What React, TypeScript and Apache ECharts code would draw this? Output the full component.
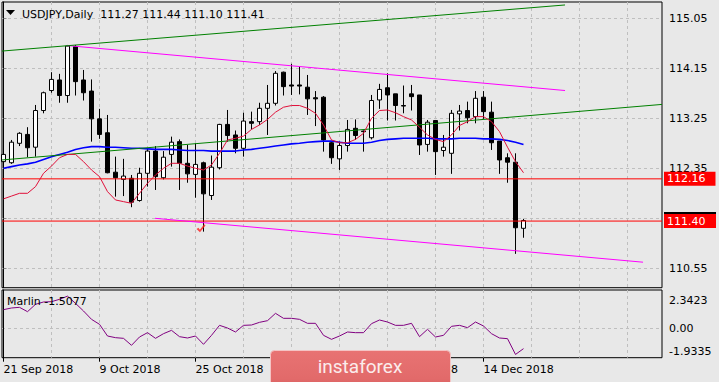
import React, { useEffect, useRef } from 'react';
import * as echarts from 'echarts';

// ---- data (USDJPY Daily, 21 Sep 2018 .. 21 Dec 2018) ----
const dates = [
  '2018-09-21', '2018-09-24', '2018-09-25', '2018-09-26', '2018-09-27', '2018-09-28',
  '2018-10-01', '2018-10-02', '2018-10-03', '2018-10-04', '2018-10-05', '2018-10-08', '2018-10-09',
  '2018-10-10', '2018-10-11', '2018-10-12', '2018-10-15', '2018-10-16', '2018-10-17', '2018-10-18',
  '2018-10-19', '2018-10-22', '2018-10-23', '2018-10-24', '2018-10-25', '2018-10-26', '2018-10-29',
  '2018-10-30', '2018-10-31', '2018-11-01', '2018-11-02', '2018-11-05', '2018-11-06', '2018-11-07',
  '2018-11-08', '2018-11-09', '2018-11-12', '2018-11-13', '2018-11-14', '2018-11-15', '2018-11-16',
  '2018-11-19', '2018-11-20', '2018-11-21', '2018-11-22', '2018-11-23', '2018-11-26', '2018-11-27',
  '2018-11-28', '2018-11-29', '2018-11-30', '2018-12-03', '2018-12-04', '2018-12-05', '2018-12-06',
  '2018-12-07', '2018-12-10', '2018-12-11', '2018-12-12', '2018-12-13', '2018-12-14', '2018-12-17',
  '2018-12-18', '2018-12-19', '2018-12-20', '2018-12-21',
];

const opens = [
  112.47, 112.45, 112.80, 112.96, 112.73, 113.39, 113.75, 113.94, 113.66, 114.54,
  113.94, 113.74, 113.24, 112.99, 112.28, 112.15, 112.17, 111.77, 112.26, 112.66,
  112.18, 112.60, 112.83, 112.44, 112.24, 112.45, 111.86, 112.36, 113.14, 112.95,
  112.71, 113.19, 113.19, 113.43, 113.52, 114.08, 113.85, 113.85, 113.81, 113.62,
  113.63, 112.81, 112.52, 112.76, 113.07, 113.02, 112.90, 113.58, 113.80, 113.69,
  113.48, 113.69, 113.67, 112.78, 113.21, 112.67, 112.62, 113.33, 113.39, 113.28,
  113.63, 113.36, 112.84, 112.54, 112.46, 111.27,
];
const highs = [
  112.68, 112.86, 113.00, 113.09, 113.49, 113.73, 114.08, 114.05, 114.57, 114.57,
  114.12, 113.95, 113.42, 113.31, 112.56, 112.52, 112.23, 112.36, 112.71, 112.75,
  112.66, 112.92, 112.87, 112.77, 112.80, 112.47, 112.58, 113.15, 113.40, 113.03,
  113.35, 113.37, 113.53, 113.85, 114.10, 114.09, 114.23, 114.18, 114.03, 113.74,
  113.65, 112.83, 112.83, 113.22, 113.23, 113.03, 113.67, 113.87, 114.06, 113.69,
  113.84, 113.85, 113.67, 113.22, 113.22, 112.95, 113.40, 113.49, 113.55, 113.74,
  113.74, 113.55, 112.84, 112.62, 112.62, 111.44,
];
const lows = [
  112.38, 112.43, 112.75, 112.55, 112.56, 113.34, 113.71, 113.53, 113.53, 113.66,
  113.57, 112.83, 112.88, 112.26, 111.84, 111.85, 111.65, 111.75, 112.02, 111.96,
  112.15, 112.38, 111.96, 112.09, 111.82, 111.21, 111.78, 112.33, 112.83, 112.62,
  112.56, 113.05, 113.13, 112.95, 113.48, 113.66, 113.67, 113.68, 113.31, 113.11,
  112.65, 112.43, 112.32, 112.65, 112.86, 112.65, 112.87, 113.42, 113.21, 113.21,
  113.34, 113.39, 112.59, 112.65, 112.23, 112.56, 112.25, 113.03, 113.16, 113.16,
  113.24, 112.68, 112.25, 112.09, 110.81, 111.10,
];
const closes = [
  112.60, 112.82, 112.98, 112.72, 113.39, 113.71, 113.95, 113.66, 114.55, 113.91,
  113.71, 113.24, 112.96, 112.27, 112.18, 112.21, 111.74, 112.26, 112.66, 112.20,
  112.55, 112.82, 112.44, 112.25, 112.42, 111.89, 112.37, 113.14, 112.94, 112.71,
  113.20, 113.16, 113.43, 113.52, 114.06, 113.82, 113.83, 113.83, 113.60, 113.60,
  112.86, 112.54, 112.76, 113.05, 112.94, 113.01, 113.57, 113.77, 113.67, 113.48,
  113.47, 113.64, 112.77, 113.18, 112.65, 112.73, 113.34, 113.38, 113.26, 113.61,
  113.37, 112.81, 112.50, 112.46, 111.28, 111.41,
];

// fast moving average (thin crimson)
const maFast = [
  111.80, 111.85, 111.90, 111.90, 112.02, 112.26, 112.39, 112.54, 112.60, 112.60,
  112.47, 112.32, 112.20, 111.93, 111.78, 111.75, 111.72, 111.90, 112.08, 112.23,
  112.35, 112.44, 112.44, 112.39, 112.35, 112.32, 112.41, 112.62, 112.86, 112.89,
  112.93, 113.05, 113.13, 113.23, 113.36, 113.45, 113.48, 113.48, 113.43, 113.34,
  113.13, 112.86, 112.81, 112.81, 112.87, 112.98, 113.25, 113.39, 113.40, 113.35,
  113.28, 113.22, 113.09, 112.95, 112.87, 112.83, 112.95, 113.12, 113.19, 113.28,
  113.28, 113.19, 113.01, 112.73, 112.47, 112.27,
];
// slow moving average (blue)
const maSlow = [
  112.35, 112.38, 112.41, 112.43, 112.46, 112.51, 112.56, 112.60, 112.64, 112.69,
  112.72, 112.74, 112.74, 112.73, 112.73, 112.72, 112.71, 112.71, 112.70, 112.69,
  112.69, 112.69, 112.68, 112.67, 112.67, 112.67, 112.66, 112.66, 112.66, 112.66,
  112.68, 112.69, 112.71, 112.73, 112.75, 112.77, 112.79, 112.80, 112.82, 112.83,
  112.84, 112.84, 112.82, 112.80, 112.80, 112.80, 112.82, 112.85, 112.87, 112.88,
  112.89, 112.89, 112.89, 112.89, 112.88, 112.88, 112.88, 112.89, 112.89, 112.89,
  112.88, 112.88, 112.87, 112.85, 112.82, 112.78,
];
// Marlin oscillator
const marlin = [
  1.352, 1.475, 1.524, 1.205, 1.744, 1.915, 1.939, 2.111, 2.3423, 1.817,
  1.255, 0.643, 0.277, -0.580, -0.702, -0.751, -1.264, -0.653, -0.335, -0.751,
  -0.408, -0.164, -0.629, -0.726, -0.580, -1.191, -0.531, 0.203, 0.007, -0.286,
  0.203, 0.227, 0.423, 0.545, 1.083, 0.717, 0.717, 0.643, 0.350, 0.350,
  -0.531, -0.824, -0.580, -0.286, -0.335, -0.335, 0.325, 0.594, 0.447, 0.203,
  0.203, 0.350, -0.629, -0.090, -0.653, -0.531, 0.130, 0.203, 0.032, 0.447,
  0.154, -0.408, -0.726, -0.775, -1.9335, -1.5077,
];

// trend lines: [barIndex, price]
const upperMagenta = [[7.94, 114.56], [70.19, 113.75]];
const lowerMagenta = [[18.94, 111.45], [79.94, 110.66]];
const upperGreen = [[-0.19, 114.46], [70.19, 115.29]];
const lowerGreen = [[-0.19, 112.50], [82.31, 113.50]];

const levelLine = 112.16;
const bidLine = 111.40;
const checkMark = [[24.69, 111.27]];

// axes ticks
const priceGridLines = [110.55, 111.45, 112.35, 113.25, 114.15, 115.05];
const priceTickLabels = [110.55, 112.35, 113.25, 114.15, 115.05];
const marlinTickTexts = ['-1.9335', '0.00', '2.3423'];
const marlinTickPlaces = [-1.73, 0, 1.99]; // MT4 draws the extreme labels slightly inside
const dateTickIndex = [0, 12, 24, 36, 48, 60];
const dateTickLabels = ['21 Sep 2018', '9 Oct 2018', '25 Oct 2018', '12 Nov 2018', '28 Nov 2018', '14 Dec 2018'];
const verticalGridIndex = [0, 6, 12, 18, 24, 30, 36, 42, 48, 54, 60, 66, 72, 78];

// ---- layout / style ----
const FONT = 'DejaVu Sans';
const X_MIN = -0.1875;
const X_MAX = 82.3125;
const P_MIN = 110.2008;
const P_MAX = 115.3434;
const M_MIN = -2.172;
const M_MAX = 2.795;
const GRID_COLOR = '#bfbfbf';

export default function App() {
  const ref = useRef<HTMLDivElement>(null);

  useEffect(() => {
    document.body.style.margin = '0';
    if (!ref.current) return;
    const chart = echarts.init(ref.current, null, { renderer: 'svg' });

    const last = closes.length - 1;
    const titleText = `USDJPY,Daily  ${opens[last].toFixed(2)} ${highs[last].toFixed(2)} ${lows[last].toFixed(2)} ${closes[last].toFixed(2)}`;

    const dashed = { show: true, lineStyle: { color: GRID_COLOR, type: [3, 3] as any, width: 1 } };
    const baseX = {
      type: 'value', min: X_MIN, max: X_MAX,
      axisLine: { show: false }, axisLabel: { show: false },
      axisTick: { show: false, customValues: verticalGridIndex },
      splitLine: dashed,
    };
    const textStyle = { color: '#000', fontFamily: FONT, fontSize: 11 };

    const option: any = {
      animation: false,
      backgroundColor: '#e8e8e8',
      grid: [
        { left: 2, right: 57, top: 2, height: 285.7, show: true, borderColor: '#000', borderWidth: 1, backgroundColor: 'transparent' },
        { left: 2, right: 57, top: 290, height: 67.7, show: true, borderColor: '#000', borderWidth: 1, backgroundColor: 'transparent' },
      ],
      xAxis: [
        { ...baseX, gridIndex: 0 },
        { ...baseX, gridIndex: 1 },
        {
          type: 'value', gridIndex: 1, position: 'bottom', min: X_MIN, max: X_MAX,
          axisLine: { show: false }, splitLine: { show: false },
          axisTick: { show: true, customValues: dateTickIndex, length: 4, lineStyle: { color: '#000' } },
          axisLabel: {
            show: true, customValues: dateTickIndex, align: 'left', margin: 6, ...textStyle,
            formatter: (v: number) => dateTickLabels[dateTickIndex.indexOf(Math.round(v))] ?? '',
          },
        },
      ],
      yAxis: [
        {
          type: 'value', gridIndex: 0, position: 'right', min: P_MIN, max: P_MAX,
          axisLine: { show: true, lineStyle: { color: '#000' } },
          axisTick: { show: true, customValues: priceGridLines, length: 3, lineStyle: { color: '#888' } },
          axisLabel: { customValues: priceTickLabels, formatter: (v: number) => v.toFixed(2), margin: 7, ...textStyle },
          splitLine: dashed,
        },
        {
          type: 'value', gridIndex: 1, position: 'right', min: M_MIN, max: M_MAX,
          axisLine: { show: true, lineStyle: { color: '#000' } },
          axisTick: { show: false, customValues: [0] },
          axisLabel: {
            customValues: marlinTickPlaces, margin: 7, ...textStyle,
            formatter: (v: number) => {
              let best = 0;
              marlinTickPlaces.forEach((p, i) => { if (Math.abs(p - v) < Math.abs(marlinTickPlaces[best] - v)) best = i; });
              return marlinTickTexts[best];
            },
          },
          splitLine: dashed,
        },
      ],
      series: [
        {
          type: 'candlestick', xAxisIndex: 0, yAxisIndex: 0, barWidth: 4, z: 2,
          data: opens.map((o, i) => [i, o, closes[i], lows[i], highs[i]]),
          itemStyle: { color: '#ffffff', color0: '#000000', borderColor: '#000000', borderColor0: '#000000', borderWidth: 1 },
        },
        {
          type: 'line', xAxisIndex: 0, yAxisIndex: 0, showSymbol: false, z: 3, silent: true,
          data: [[X_MIN, levelLine], [X_MAX, levelLine]],
          itemStyle: { color: '#ff0000' }, lineStyle: { color: '#ff0000', width: 1 },
          endLabel: {
            show: true, distance: 2, formatter: () => levelLine.toFixed(2), color: '#fff',
            backgroundColor: '#ff0000', padding: [1, 10, 1, 3], fontFamily: FONT, fontSize: 11, lineHeight: 12,
          },
        },
        {
          type: 'line', xAxisIndex: 0, yAxisIndex: 0, showSymbol: false, z: 3, silent: true,
          data: [[X_MIN, bidLine], [X_MAX, bidLine]],
          itemStyle: { color: '#ff0000' }, lineStyle: { color: '#ff0000', width: 1 },
          endLabel: {
            show: true, distance: 2, offset: [0, -1],
            formatter: () => `{b| }\n{v|${bidLine.toFixed(2)}}`,
            rich: {
              b: { backgroundColor: '#000', width: 52, height: 2, lineHeight: 2, fontSize: 1 },
              v: { backgroundColor: '#ff0000', color: '#fff', width: 49, height: 14, lineHeight: 14, padding: [0, 0, 0, 3], fontFamily: FONT, fontSize: 11 },
            },
          },
        },
        {
          type: 'line', xAxisIndex: 0, yAxisIndex: 0, showSymbol: false, z: 3,
          data: maSlow.map((v, i) => [i, v]), lineStyle: { color: '#0000ff', width: 1.6 },
        },
        {
          type: 'line', xAxisIndex: 0, yAxisIndex: 0, showSymbol: false, z: 4,
          data: maFast.map((v, i) => [i, v]), lineStyle: { color: '#e0103a', width: 1 },
        },
        { type: 'line', xAxisIndex: 0, yAxisIndex: 0, showSymbol: false, z: 3, data: upperMagenta, lineStyle: { color: '#ff00ff', width: 1 } },
        { type: 'line', xAxisIndex: 0, yAxisIndex: 0, showSymbol: false, z: 3, data: lowerMagenta, lineStyle: { color: '#ff00ff', width: 1 } },
        { type: 'line', xAxisIndex: 0, yAxisIndex: 0, showSymbol: false, z: 3, data: upperGreen, lineStyle: { color: '#008000', width: 1 } },
        { type: 'line', xAxisIndex: 0, yAxisIndex: 0, showSymbol: false, z: 3, data: lowerGreen, lineStyle: { color: '#008000', width: 1 } },
        {
          type: 'scatter', xAxisIndex: 0, yAxisIndex: 0, z: 5, data: checkMark,
          symbol: 'path://M0,5 L2,3.6 L3.5,5.8 L8,0 L9.4,1.2 L3.6,8.4 Z', symbolSize: [9, 8],
          itemStyle: { color: '#ff1a1a' },
        },
        {
          type: 'line', xAxisIndex: 1, yAxisIndex: 1, showSymbol: false, z: 3,
          data: marlin.map((v, i) => [i, v]), lineStyle: { color: '#800080', width: 1 },
        },
      ],
      graphic: [
        { type: 'polygon', z: 50, shape: { points: [[6, 10], [15, 10], [10.5, 15]] }, style: { fill: '#000' } },
        { type: 'text', z: 50, x: 22, y: 14, style: { text: titleText, fill: '#000', font: `11px "${FONT}"`, align: 'left', verticalAlign: 'middle' } },
        { type: 'text', z: 50, x: 7, y: 301, style: { text: `Marlin ${marlin[last]}`, fill: '#000', font: `11px "${FONT}"`, align: 'left', verticalAlign: 'middle' } },
        {
          type: 'group', x: 270, y: 350, z: 100,
          children: [
            {
              type: 'rect', z: 100, shape: { x: 0.5, y: 0.5, width: 180, height: 40, r: [4, 4, 0, 0] },
              style: {
                fill: new echarts.graphic.LinearGradient(0, 0, 0, 1, [
                  { offset: 0, color: '#e87373' }, { offset: 0.7, color: '#e26a6a' }, { offset: 1, color: '#d65f5f' },
                ]),
                stroke: '#f4c4c4', lineWidth: 1,
              },
            },
            { type: 'text', z: 101, x: 90, y: 16, style: { text: 'instaforex', fill: '#fbecec', font: '19px Roboto', align: 'center', verticalAlign: 'middle' } },
          ],
        },
      ],
    };

    chart.setOption(option);
    return () => chart.dispose();
  }, []);

  return <div ref={ref} style={{ width: 719, height: 382 }} data-dates={dates.length} />;
}
